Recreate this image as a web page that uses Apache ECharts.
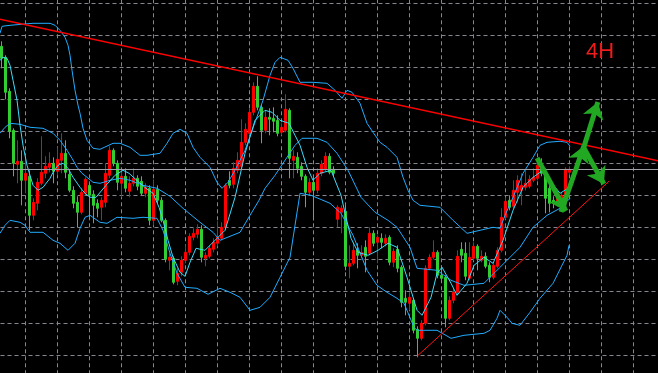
<!DOCTYPE html>
<html>
<head>
<meta charset="utf-8">
<script src="https://cdn.jsdelivr.net/npm/echarts@6/dist/echarts.min.js"></script>
<style>
html,body{margin:0;padding:0;background:#000;}
#chart{width:658px;height:373px;}
</style>
</head>
<body>
<div id="chart"></div>
<script>
// ---- chart data (prices in chart points, bars indexed from 0) ----
const openPrices = [309,298,264,225,191,194,175,179,140,152, 172,182,188,192,184,195,202,181,165,153,
  143,162,170,161,152,148,153,180,205,192, 172,179,164,172,177,174,162,167,135,166,
  155,135,95,97,74,83,95,103,118,121, 126,97,99,106,112,117,128,175,171,185,
  189,213,222,243,269,248,225,238,237,235, 223,225,245,195,198,189,179,163,173,165,
  182,186,199,186,136,143,144,89,92,105, 100,108,102,122,113,117,112,118,93,106,
  88,57,52,55,26,17,32,87,98,103, 80,78,37,55,63,106,102,77,97,109,
  95,99,90,78,89,105,138,155,149,163, 165,168,169,175,177,190,183,167,155,152,
  153,160,183];
const closePrices = [297,263,224,192,194,175,182,140,153,173, 183,189,192,184,196,202,183,165,152,143,
  163,176,160,150,147,155,182,205,192,173, 179,167,172,177,169,162,168,135,166,155,
  135,96,98,73,82,95,103,119,122,126, 98,100,107,113,118,128,170,170,187,195,
  213,226,243,269,248,225,238,236,234,222, 228,246,197,199,187,179,163,173,165,182,
  191,199,183,182,148,147,89,92,105,100, 103,99,122,112,118,113,117,93,104,87,
  53,53,58,25,17,32,87,98,103,80, 77,37,55,63,99,100,79,98,109,97,
  99,89,78,90,105,138,154,148,165,175, 170,172,176,178,190,182,157,152,152,159,
  160,186,186];
const lowPrices = [287,256,217,179,172,150,162,125,135,145, 170,177,183,172,180,182,177,163,147,128,
  141,160,138,132,138,135,148,177,189,165, 158,163,158,169,165,160,158,130,130,152,
  133,93,85,71,70,79,92,100,115,117, 93,89,97,103,109,115,125,167,167,182,
  187,210,220,240,245,212,222,220,223,219, 220,223,177,177,182,175,148,160,135,162,
  179,184,181,179,128,122,85,77,90,87, 97,83,100,109,92,107,109,90,88,83,
  48,40,45,22,-2,15,30,85,96,77, 73,28,35,52,60,93,75,75,95,85,
  93,87,73,76,87,103,136,145,147,153, 150,165,167,173,175,179,142,143,147,149,
  151,158,181];
const highPrices = [314,300,267,227,215,205,200,185,157,177, 219,199,203,198,208,222,215,185,169,159,
  167,178,173,165,156,158,192,209,207,195, 185,187,179,187,180,179,172,170,176,170,
  158,137,102,99,87,99,110,122,127,131, 130,103,110,117,134,133,172,184,193,203,
  236,232,247,273,279,251,245,247,248,240, 232,261,247,205,203,193,181,177,180,187,
  195,203,202,189,150,150,150,110,113,112, 110,115,128,125,120,122,121,120,107,110,
  90,65,63,57,29,35,90,101,115,105, 90,80,59,67,105,113,113,113,113,111,
  105,103,93,93,108,147,158,160,175,180, 182,185,180,187,195,197,187,170,159,162,
  163,188,189];

const bidPrice = 186;

// Bollinger bands and fast moving average, [bar, price] vertices
const upperBand = [[-0.38,322],[0.13,329],[2.13,330],[7.88,332],[12.13,332],[13.38,330],[14.63,325],[15.88,318],[16.63,310],[17.13,300],[17.63,285],[18.38,265],[19.13,250],[19.63,242],[20.38,227],[21.38,215],[22.88,207],[24.63,206],[27.88,212],[29.63,212],[32.13,208],[34.63,200],[36.38,200],[39.63,202],[41.38,212],[42.88,222],[44.63,226],[46.38,222],[47.88,208],[49.63,198],[52.13,188],[53.88,173],[55.13,167],[56.63,173],[58.38,185],[60.88,205],[63.38,233],[65.38,255],[67.13,280],[68.38,293],[69.63,298],[71.63,295],[72.88,287],[74.63,273],[77.88,273],[81.38,272],[83.38,265],[85.13,257],[86.38,265],[87.63,263],[89.63,252],[91.38,232],[92.88,223],[94.63,213],[96.38,208],[98.88,198],[100.38,178],[101.63,165],[102.88,155],[104.63,150],[109.63,148],[112.88,135],[116.38,122],[119.63,125],[122.88,128],[124.63,127],[125.88,140],[127.88,158],[130.38,182],[132.88,198],[134.63,210],[136.38,213],[139.63,214],[141.38,213],[142.13,209]];
const middleBand = [[-0.38,222],[0.88,228],[2.13,232],[4.63,231],[7.13,228],[10.38,227],[12.88,222],[14.63,215],[16.38,205],[17.63,197],[18.88,188],[20.13,182],[21.38,178],[22.88,173],[24.63,172],[27.13,175],[29.63,177],[32.13,175],[35.38,170],[38.88,167],[42.13,159],[45.38,147],[49.63,133],[52.88,123],[54.63,115],[57.13,119],[59.63,123],[62.13,140],[64.38,155],[65.88,167],[68.38,180],[71.38,198],[73.38,210],[75.13,217],[78.88,217],[81.38,213],[83.88,202],[86.63,185],[89.88,158],[93.38,143],[96.63,135],[98.88,128],[102.13,108],[103.88,87],[108.88,85],[112.38,75],[115.63,70],[120.63,72],[124.63,88],[129.63,108],[132.88,128],[136.38,140],[139.63,147],[142.13,157]];
const lowerBand = [[-0.38,122],[0.88,130],[2.13,135],[4.63,133],[5.88,130],[7.13,123],[10.38,123],[12.88,115],[14.63,112],[16.63,105],[18.38,112],[19.63,127],[20.88,138],[22.13,140],[24.63,133],[26.38,132],[28.88,138],[32.88,137],[35.38,138],[38.88,137],[40.38,125],[42.13,102],[43.88,82],[45.88,68],[48.88,67],[51.63,61],[54.63,67],[57.13,63],[59.63,58],[62.13,45],[64.63,48],[67.13,58],[69.63,78],[72.13,98],[73.38,130],[74.63,162],[77.38,160],[82.13,152],[84.88,142],[87.88,120],[91.38,85],[93.88,70],[96.38,63],[98.88,57],[100.63,52],[103.13,28],[103.88,25],[108.88,25],[112.38,17],[115.63,20],[120.63,22],[122.13,25],[123.88,37],[124.63,45],[126.38,38],[127.63,32],[129.63,30],[132.13,43],[134.63,57],[137.88,72],[141.38,100],[141.88,110]];
const fastAverage = [[-0.38,295],[0.38,298],[1.38,297],[2.13,290],[2.88,275],[3.88,255],[4.63,230],[5.38,210],[6.38,190],[7.13,180],[7.88,170],[9.13,165],[10.38,168],[12.13,177],[12.88,183],[14.13,190],[15.38,192],[16.63,187],[17.88,178],[19.63,168],[20.88,162],[22.13,158],[23.63,158],[26.13,170],[28.38,180],[30.38,185],[31.88,182],[34.38,173],[36.13,167],[37.88,162],[39.38,148],[40.38,135],[41.63,115],[42.88,98],[44.63,83],[45.88,79],[47.13,93],[48.63,107],[50.88,105],[53.88,117],[55.88,125],[58.38,158],[60.88,202],[63.38,235],[65.88,245],[67.63,243],[69.63,235],[71.88,232],[73.38,220],[74.63,210],[76.38,188],[77.88,175],[79.63,182],[82.38,185],[84.88,160],[86.13,138],[87.38,117],[89.13,103],[91.63,100],[94.13,105],[96.63,112],[98.88,108],[101.38,78],[103.88,45],[105.13,40],[107.38,58],[108.88,82],[110.13,88],[112.38,72],[113.88,60],[116.38,72],[118.13,90],[120.63,98],[122.88,92],[125.38,115],[127.88,145],[130.38,168],[132.88,178],[135.38,185],[137.63,172],[139.63,162],[141.63,167]];

// hand-drawn trendlines and forecast arrows, [bar, price]
const resistanceLine = [[-2,337.4],[166,193.0]];
const supportLine = [[103.95,-0.7],[151.95,174.3]];
const forecastArrows = [
  [[133.9,197.3],[141.1,144.3]],
  [[139.9,143.3],[145.6,209.3]],
  [[145.6,208.3],[149.1,253.3]],
  [[145.6,207.3],[150.6,171.3]]
];
const timeframeLabel = '4H';

// ---- build chart ----
const LEAD = 2, SLOTS = 169;
const categories = [];
for (let n = 0; n < SLOTS; n++) categories.push(String(n - LEAD));
const candleData = [];
for (let n = 0; n < LEAD; n++) candleData.push(['-','-','-','-']);
openPrices.forEach((o, k) => candleData.push([o, closePrices[k], lowPrices[k], highPrices[k]]));

const gridLine = {show: true, lineStyle: {color: '#868690', width: 1, type: [4, 3]}};
const bandColor = '#22acff';
const fastColor = '#3cdcfa';

function lineSeries(data, color, width, z) {
  return {type: 'line', xAxisIndex: 1, yAxisIndex: 0, data: data, showSymbol: false, symbol: 'none',
    smooth: false, lineStyle: {color: color, width: width}, z: z, silent: true};
}

const chart = echarts.init(document.getElementById('chart'), null, {renderer: 'canvas'});
chart.setOption({
  backgroundColor: '#000000',
  animation: false,
  title: {text: timeframeLabel, left: 581, top: 36,
    textStyle: {color: '#ee1c1c', fontSize: 22, fontWeight: 'normal', fontFamily: 'Liberation Sans'}},
  grid: {left: -6.5, right: -7.5, top: -28.7, bottom: -14.3, containLabel: false, outerBoundsMode: 'none'},
  xAxis: [
    {type: 'category', data: categories, boundaryGap: false,
      axisLine: {show: false}, axisTick: {show: false}, axisLabel: {show: false},
      splitLine: Object.assign({interval: function (idx) { return idx % 8 === 0; }}, gridLine)},
    {type: 'value', min: -LEAD, max: SLOTS - 1 - LEAD, show: false, splitLine: {show: false}}
  ],
  yAxis: [{type: 'value', min: -32, max: 384, interval: 32,
    axisLine: {show: false}, axisTick: {show: false}, axisLabel: {show: false}, splitLine: gridLine}],
  series: [
    {type: 'candlestick', xAxisIndex: 0, yAxisIndex: 0, data: candleData, barWidth: 2, z: 2,
      itemStyle: {color: '#ff0000', color0: '#32cd32', borderColor: '#ff0000', borderColor0: '#32cd32', borderWidth: 1},
      markLine: {silent: true, symbol: 'none', label: {show: false},
        lineStyle: {color: '#a0a0a8', type: 'solid', width: 1}, data: [{yAxis: bidPrice}]}},
    lineSeries(upperBand, bandColor, 1, 3),
    lineSeries(middleBand, bandColor, 1, 3),
    lineSeries(lowerBand, bandColor, 1, 3),
    lineSeries(fastAverage, fastColor, 1, 3),
    lineSeries(resistanceLine, '#ff0000', 1.5, 4),
    lineSeries(supportLine, '#ff1414', 1, 4),
    {type: 'lines', coordinateSystem: 'cartesian2d', xAxisIndex: 1, yAxisIndex: 0, z: 5, silent: true,
      symbol: ['none', 'arrow'], symbolSize: [0, 16],
      lineStyle: {color: '#22a822', width: 5, opacity: 1, curveness: 0},
      data: forecastArrows.map(function (seg) { return {coords: seg}; })}
  ]
});
</script>
</body>
</html>
